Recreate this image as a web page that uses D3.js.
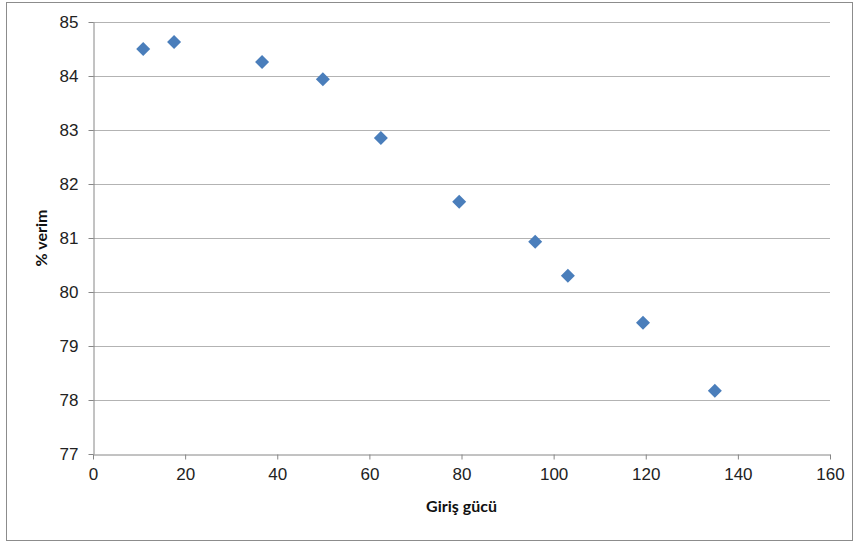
<!DOCTYPE html>
<html>
<head>
<meta charset="utf-8">
<script src="https://cdn.jsdelivr.net/npm/d3@7"></script>
<style>
  html, body { margin: 0; padding: 0; background: #fff; }
  svg { display: block; font-family: Lato, "Open Sans", sans-serif; }
</style>
</head>
<body>
<svg id="chart" width="854" height="542"></svg>
<script>
// Input power vs. efficiency measurements
const inputPower = [10.9, 17.6, 36.7, 49.9, 62.5, 79.5, 96.0, 103.1, 119.4, 135.0];
const efficiency = [84.50, 84.63, 84.26, 83.94, 82.85, 81.67, 80.93, 80.30, 79.43, 78.17];
const xTicks = [0, 20, 40, 60, 80, 100, 120, 140, 160];
const yTicks = [77, 78, 79, 80, 81, 82, 83, 84, 85];
const xTitle = "Giriş gücü";
const yTitle = "% verim";

const svg = d3.select("#chart");
const margin = { left: 93, right: 24, top: 22, bottom: 88 };
const W = 854, H = 542;

// outer chart frame
svg.append("rect")
  .attr("x", 6.5).attr("y", 2.5)
  .attr("width", 846).attr("height", 538)
  .attr("fill", "#fff").attr("stroke", "#8c8c8c").attr("stroke-width", 1);

const x = d3.scaleLinear().domain([0, 160]).range([margin.left, W - margin.right]);
const y = d3.scaleLinear().domain([77, 85]).range([H - margin.bottom, margin.top]);

// horizontal gridlines
svg.append("g")
  .selectAll("line")
  .data(yTicks.filter(t => t !== 77))
  .join("line")
  .attr("x1", x(0)).attr("x2", x(160))
  .attr("y1", d => Math.round(y(d)) + 0.5).attr("y2", d => Math.round(y(d)) + 0.5)
  .attr("stroke", "#b3b3b3").attr("stroke-width", 1);

// y axis
const yAxis = svg.append("g")
  .attr("transform", `translate(${Math.round(x(0)) + 0.5},0)`)
  .call(d3.axisLeft(y).tickValues(yTicks).tickSize(5).tickSizeOuter(0).tickPadding(10));
yAxis.select(".domain").attr("stroke", "#868686");
yAxis.selectAll(".tick line").attr("stroke", "#868686");
yAxis.selectAll(".tick text").attr("font-size", 17).attr("fill", "#222");

// x axis
const xAxis = svg.append("g")
  .attr("transform", `translate(0,${Math.round(y(77)) + 0.5})`)
  .call(d3.axisBottom(x).tickValues(xTicks).tickSize(5).tickSizeOuter(0).tickPadding(8));
xAxis.select(".domain").attr("stroke", "#868686");
xAxis.selectAll(".tick line").attr("stroke", "#868686");
xAxis.selectAll(".tick text").attr("font-size", 17).attr("fill", "#222");

// axis titles
svg.append("text")
  .attr("x", x(80)).attr("y", 512)
  .attr("text-anchor", "middle")
  .attr("font-size", 16).attr("font-weight", "bold").attr("fill", "#111")
  .text(xTitle);

svg.append("text")
  .attr("transform", `translate(47,${y(81)}) rotate(-90)`)
  .attr("text-anchor", "middle")
  .attr("font-size", 16).attr("font-weight", "bold").attr("fill", "#111")
  .text(yTitle);

// diamond markers
const pts = inputPower.map((v, i) => ({ x: v, y: efficiency[i] }));
const s = 7;
svg.append("g")
  .selectAll("path")
  .data(pts)
  .join("path")
  .attr("d", d => {
    const cx = x(d.x), cy = y(d.y);
    return `M${cx},${cy - s}L${cx + s},${cy}L${cx},${cy + s}L${cx - s},${cy}Z`;
  })
  .attr("fill", "#4a7ebb");
</script>
</body>
</html>
